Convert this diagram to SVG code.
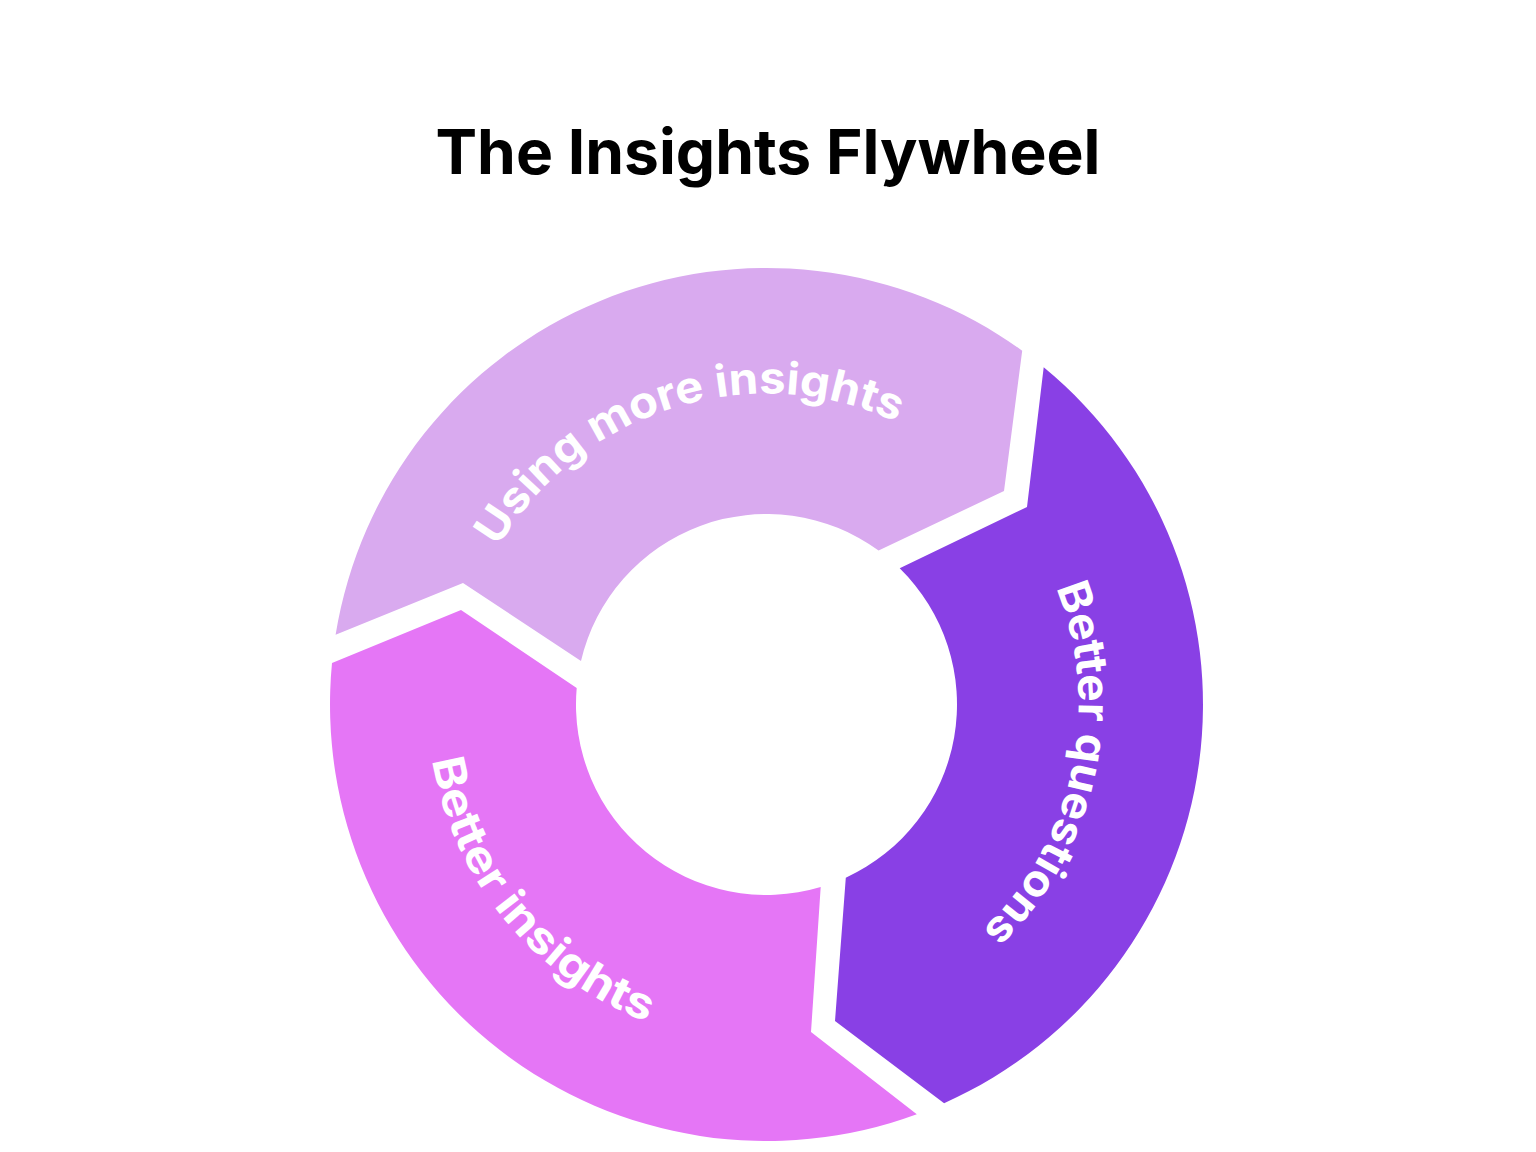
<svg xmlns="http://www.w3.org/2000/svg" width="1536" height="1152" viewBox="0 0 1536 1152">
  <style>
    .title { font-family: "Inter", "Liberation Sans", sans-serif; font-weight: 700; font-size: 62px; fill: #000000; }
    .label { font-family: "Inter", "Liberation Sans", sans-serif; font-weight: 700; font-size: 44px; fill: #FFFFFF; }
  </style>
  <defs>
    <path id="arcTop" d="M458.1,744.6 A311,311 0 0 1 1042.6,561.4" fill="none"/>
    <path id="arcRight" d="M884.1,415.5 A312,312 0 0 1 754.8,1016.3" fill="none"/>
    <path id="arcLeft" d="M509.1,483.9 A339,339 0 0 0 933,999.8" fill="none"/>
  </defs>
  <rect width="1536" height="1152" fill="#FFFFFF"/>
  <g id="title">
    <text class="title" x="768" y="174" text-anchor="middle" textLength="665" lengthAdjust="spacingAndGlyphs">The Insights Flywheel</text>
  </g>
  <g id="connectors"></g>
  <g id="node-using-more-insights">
    <path d="M335.6,634.8 A436.5,436.5 0 0 1 1022.2,350.7 L1004,491 L878.6,550.5 A190.5,190.5 0 0 0 581,661 L463,583 Z" fill="#D9AAEF"/>
    <text class="label"><textPath href="#arcTop" startOffset="50%" text-anchor="middle" textLength="458" lengthAdjust="spacingAndGlyphs">Using more insights</textPath></text>
  </g>
  <g id="node-better-questions">
    <path d="M1043.7,367.3 A436.5,436.5 0 0 1 944.1,1103.2 L835,1021 L845.8,877.7 A190.5,190.5 0 0 0 899.7,568.3 L1027,507 Z" fill="#8940E5"/>
    <text class="label"><textPath href="#arcRight" startOffset="50%" text-anchor="middle" textLength="372" lengthAdjust="spacingAndGlyphs">Better questions</textPath></text>
  </g>
  <g id="node-better-insights">
    <path d="M916.8,1114.3 A436.5,436.5 0 0 1 332,662.9 L461,610 L576.7,688 A190.5,190.5 0 0 0 820.7,887.1 L811,1032 Z" fill="#E576F6"/>
    <text class="label"><textPath href="#arcLeft" startOffset="50%" text-anchor="middle" textLength="355" lengthAdjust="spacingAndGlyphs">Better insights</textPath></text>
  </g>
</svg>
